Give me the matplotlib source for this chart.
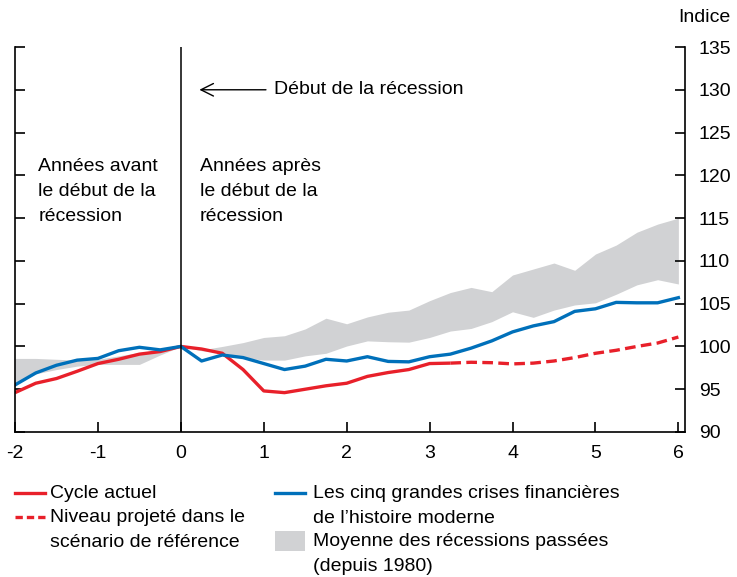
import matplotlib.pyplot as plt
from matplotlib.lines import Line2D
from matplotlib.patches import Rectangle
import numpy as np

plt.rcParams['font.family'] = ['Liberation Sans', 'DejaVu Sans']
plt.rcParams['axes.unicode_minus'] = False

# quarters from 2 years before to 6 years after the start of the recession
years = np.arange(-2, 6.01, 0.25)

current_cycle = [94.6, 95.7, 96.25, 97.1, 98.0, 98.5, 99.1, 99.4, 100.0,
                 99.7, 99.2, 97.3, 94.8, 94.6, 95.0, 95.4, 95.7, 96.5,
                 96.95, 97.3, 98.0, 98.05]
projected = [98.05, 98.15, 98.1, 97.96, 98.05, 98.3, 98.7, 99.2, 99.55,
             100.0, 100.4, 101.1]
big_five = [95.5, 96.9, 97.8, 98.4, 98.6, 99.5, 99.9, 99.6, 100.0,
            98.3, 99.0, 98.7, 98.0, 97.3, 97.7, 98.5, 98.3, 98.8,
            98.25, 98.2, 98.8, 99.1, 99.8, 100.65, 101.7, 102.4, 102.9,
            104.1, 104.4, 105.15, 105.1, 105.1, 105.7]
past_upper = [98.6, 98.6, 98.5, 98.4, 98.5, 98.9, 99.3, 99.6, 100.0,
              99.6, 100.0, 100.45, 101.05, 101.25, 102.05, 103.3, 102.65,
              103.45, 104.0, 104.25, 105.35, 106.3, 106.9, 106.4, 108.35,
              109.05, 109.75, 108.9, 110.8, 111.85, 113.35, 114.3, 115.0]
past_lower = [95.6, 96.8, 97.3, 97.7, 97.9, 97.9, 97.9, 99.0, 100.0,
              99.5, 99.3, 98.7, 98.4, 98.4, 98.9, 99.2, 100.05, 100.65,
              100.55, 100.5, 101.05, 101.8, 102.1, 102.9, 104.05, 103.4,
              104.25, 104.85, 105.1, 106.1, 107.2, 107.8, 107.3]

red = '#E8202A'
blue = '#0070BA'
grey = '#D1D2D4'
fs = 14

fig = plt.figure(figsize=(7.37, 5.77), dpi=100)
ax = fig.add_axes([15 / 737, 1 - 432 / 577, 670 / 737, 385 / 577])

ax.fill_between(years, past_lower, past_upper, color=grey, lw=0)
ax.plot(years[:len(current_cycle)], current_cycle, color=red, lw=2.4,
        solid_capstyle='butt')
ax.plot(years[len(current_cycle) - 1:], projected, color=red, lw=2.4,
        dashes=(3.2, 1.6))
ax.plot(years, big_five, color=blue, lw=2.4)
ax.axvline(0, color='black', lw=1.1)

ax.set_xlim(-2, 6.08)
ax.set_ylim(90, 135)
ax.set_xticks(range(-2, 7))
ax.set_yticks(range(90, 136, 5))
ax.spines['top'].set_visible(False)
for s in ['left', 'right', 'bottom']:
    ax.spines[s].set_linewidth(1.2)
ax.tick_params(axis='y', left=True, right=True, labelleft=False,
               labelright=True, direction='in', length=7, width=1.2,
               labelsize=fs, pad=10)
ax.tick_params(axis='x', direction='in', length=7, width=1.2,
               labelsize=fs, pad=9)

ax.annotate('', xy=(0.19, 130), xytext=(1.06, 130),
            arrowprops=dict(arrowstyle='->,head_length=0.9,head_width=0.45',
                            lw=1.0, color='black'))
ax.text(1.12, 130, 'Début de la récession', fontsize=fs, va='center')
ax.text(-1.72, 122.0, 'Années avant\nle début de la\nrécession', fontsize=fs,
        va='top', linespacing=1.6)
ax.text(0.23, 122.0, 'Années après\nle début de la\nrécession', fontsize=fs,
        va='top', linespacing=1.6)

fig.text(730 / 737, 1 - 18 / 577, 'Indice', fontsize=fs, ha='right',
         va='center')

# legend, laid out by hand in two columns
def row(y):
    return 1 - y / 577

fig.add_artist(Line2D([15 / 737, 45 / 737], [row(493)] * 2, color=red, lw=2.4))
fig.text(50 / 737, row(493), 'Cycle actuel', fontsize=fs, va='center')
fig.add_artist(Line2D([15 / 737, 45 / 737], [row(517)] * 2, color=red, lw=2.4,
                      dashes=(2.2, 1.2)))
fig.text(50 / 737, row(509), 'Niveau projeté dans le\nscénario de référence',
         fontsize=fs, va='top', linespacing=1.6)
fig.add_artist(Line2D([275 / 737, 305 / 737], [row(493)] * 2, color=blue, lw=2.4))
fig.text(313 / 737, row(485),
         'Les cinq grandes crises financières\nde l\u2019histoire moderne',
         fontsize=fs, va='top', linespacing=1.6)
fig.add_artist(Rectangle((275 / 737, row(551)), 30 / 737, 20 / 577,
                         transform=fig.transFigure, color=grey, lw=0))
fig.text(313 / 737, row(533),
         'Moyenne des récessions passées\n(depuis 1980)',
         fontsize=fs, va='top', linespacing=1.6)

plt.savefig('out.png', dpi=100)
